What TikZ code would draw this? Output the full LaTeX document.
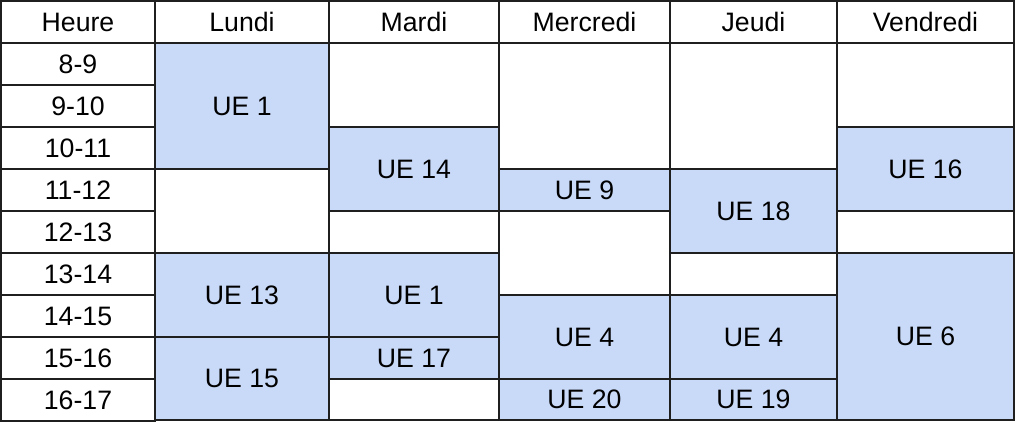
\documentclass[tikz,border=0pt]{standalone}
\usepackage{fontspec}
\setmainfont{Liberation Sans}
\usepackage{tikz}

\definecolor{uebleu}{HTML}{C9DAF8}

% one box of the timetable: style, name, x1, x2, y1, y2, text
\newcommand{\creneau}[7][cell]{%
  \node[#1, minimum width={((#4)-(#3))*0.75pt}, minimum height={((#6)-(#5))*0.75pt}]
    (#2) at ({((#3)+(#4))/2},{((#5)+(#6))/2}) {#7};}

\begin{document}
\begin{tikzpicture}[x=0.75pt, y=-0.75pt,
    cell/.style = {draw=black!88, line width=1.5pt, fill=white, inner sep=0pt,
                   font=\fontsize{20}{22}\selectfont},
    ue/.style = {cell, fill=uebleu}]
\useasboundingbox (0,0) rectangle (1016,422);

% header
\creneau{heure}{1}{155}{1}{43}{Heure}
\creneau{lundi}{155}{329}{1}{43}{Lundi}
\creneau{mardi}{329}{499}{1}{43}{Mardi}
\creneau{mercredi}{499}{670}{1}{43}{Mercredi}
\creneau{jeudi}{670}{837}{1}{43}{Jeudi}
\creneau{vendredi}{837}{1014}{1}{43}{Vendredi}

% hours
\foreach \h [count=\i from 0] in {8,...,16} {
  \pgfmathtruncatemacro{\hh}{\h+1}
  \creneau{h\h}{1}{155}{43+42*\i}{85+42*\i}{\h-\hh}
}

% Lundi
\creneau[ue]{lun1}{155}{329}{43}{169}{UE 1}
\creneau{lun2}{155}{329}{169}{253}{}
\creneau[ue]{lun3}{155}{329}{253}{337}{UE 13}
\creneau[ue]{lun4}{155}{329}{337}{420}{UE 15}

% Mardi
\creneau{mar1}{329}{499}{43}{127}{}
\creneau[ue]{mar2}{329}{499}{127}{211}{UE 14}
\creneau{mar3}{329}{499}{211}{253}{}
\creneau[ue]{mar4}{329}{499}{253}{337}{UE 1}
\creneau[ue]{mar5}{329}{499}{337}{379}{UE 17}
\creneau{mar6}{329}{499}{379}{420}{}

% Mercredi
\creneau{mer1}{499}{670}{43}{169}{}
\creneau[ue]{mer2}{499}{670}{169}{211}{UE 9}
\creneau{mer3}{499}{670}{211}{295}{}
\creneau[ue]{mer4}{499}{670}{295}{379}{UE 4}
\creneau[ue]{mer5}{499}{670}{379}{420}{UE 20}

% Jeudi
\creneau{jeu1}{670}{837}{43}{169}{}
\creneau[ue]{jeu2}{670}{837}{169}{253}{UE 18}
\creneau{jeu3}{670}{837}{253}{295}{}
\creneau[ue]{jeu4}{670}{837}{295}{379}{UE 4}
\creneau[ue]{jeu5}{670}{837}{379}{420}{UE 19}

% Vendredi
\creneau{ven1}{837}{1014}{43}{127}{}
\creneau[ue]{ven2}{837}{1014}{127}{211}{UE 16}
\creneau{ven3}{837}{1014}{211}{253}{}
\creneau[ue]{ven4}{837}{1014}{253}{420}{UE 6}
\end{tikzpicture}
\end{document}
